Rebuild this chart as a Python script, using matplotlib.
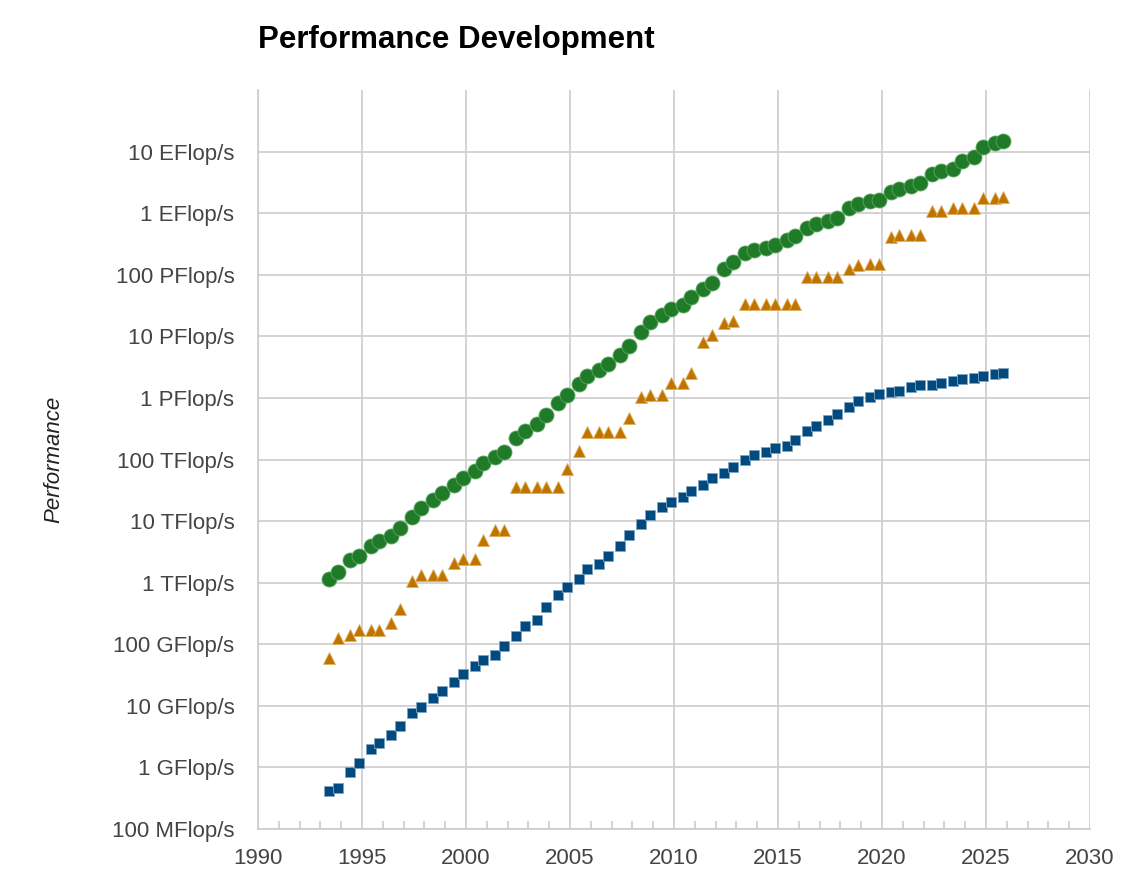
import numpy as np
import matplotlib.pyplot as plt
from matplotlib.ticker import FixedLocator, NullFormatter

# TOP500 lists, June and November, 1993-06 .. 2025-11
years = np.arange(1993, 2026)
dates = np.array([[y + 5 / 12, y + 10 / 12] for y in years]).ravel()

# values in GFlop/s
total = [1128.57, 1493.35, 2317, 2732, 3927, 4784, 5727, 7599, 11737, 16110,
         22215, 28384, 38538, 50969, 64283, 88105, 108581, 134387, 222262, 293354,
         374984, 528377, 813175, 1127440, 1690520, 2300000, 2791000, 3540000,
         4920000, 6970000, 11700000, 16950000, 22600000, 27950000, 32400000,
         43700000, 58900000, 74200000, 123000000, 162000000, 223000000, 250000000,
         274000000, 309000000, 361000000, 420000000, 566700000, 672000000,
         749000000, 845000000, 1220000000, 1414000000, 1559000000, 1650000000,
         2220000000, 2430000000, 2800000000, 3040000000, 4400000000, 4860000000,
         5240000000, 7000000000, 8210000000, 11720000000, 13840000000, 14900000000]

top1 = [59.7, 124, 143.4, 170, 170, 170, 220.4, 368.2, 1068, 1338,
        1338, 1338, 2121, 2379, 2379, 4938, 7226, 7226, 35860, 35860,
        35860, 35860, 35860, 70720, 136800, 280600, 280600, 280600, 280600, 478200,
        1026000, 1105000, 1105000, 1759000, 1759000, 2566000, 8162000, 10510000,
        16320000, 17590000, 33860000, 33860000, 33860000, 33860000, 33860000, 33860000,
        93010000, 93010000, 93010000, 93010000, 122300000, 143500000, 148600000,
        148600000, 415500000, 442000000, 442000000, 442000000, 1102000000,
        1102000000, 1194000000, 1194000000, 1206000000, 1742000000, 1742000000,
        1809000000]

last500 = [0.42, 0.47, 0.84, 1.17, 1.96, 2.50, 3.31, 4.62, 7.67, 9.51,
           13.4, 17.1, 24.7, 33.1, 43.8, 55.1, 67.8, 94.3, 134.3, 195.8,
           245.1, 403.4, 624, 850.6, 1166, 1646, 2026, 2737, 4005, 5929,
           9000, 12640, 17090, 20050, 24670, 31120, 39090, 50940, 60820, 76500,
           96620, 117800, 133700, 153400, 164700, 206300, 286100, 349300, 432200,
           548700, 715600, 874800, 1022000, 1142000, 1228000, 1317000, 1511000,
           1646000, 1650000, 1730000, 1870000, 2020000, 2130000, 2310000,
           2440000, 2550000]

tick_labels = ['100 MFlop/s', '1 GFlop/s', '10 GFlop/s', '100 GFlop/s',
               '1 TFlop/s', '10 TFlop/s', '100 TFlop/s', '1 PFlop/s',
               '10 PFlop/s', '100 PFlop/s', '1 EFlop/s', '10 EFlop/s']

plt.rcParams['font.family'] = ['Liberation Sans', 'DejaVu Sans']

fig = plt.figure(figsize=(11.28, 8.77), dpi=100)
ax = fig.add_axes([258 / 1128, 1 - 829 / 877, 832 / 1128, 739 / 877])

gflop = 1e9
ax.plot(dates, np.array(total) * gflop, 'o', color='#1f7b27', ms=10.8,
        mec='#5fa565', mew=0.6, zorder=3)
ax.plot(dates, np.array(top1) * gflop, '^', color='#c07400', ms=8.5,
        mec='#e0b060', mew=0.6, zorder=3)
ax.plot(dates, np.array(last500) * gflop, 's', color='#004a7f', ms=7.5,
        mec='#7fa4c0', mew=0.6, zorder=3)

ax.set_yscale('log')
ax.set_ylim(1e8, 1e20)
ax.set_xlim(1990, 2030)

ax.yaxis.set_major_locator(FixedLocator([10.0 ** k for k in range(8, 20)]))
ax.yaxis.set_minor_locator(FixedLocator([]))
ax.yaxis.set_minor_formatter(NullFormatter())
ax.set_yticklabels(tick_labels)
ax.set_xticks(range(1990, 2031, 5))
ax.set_xticks(range(1990, 2031), minor=True)

ax.grid(True, which='major', color='#cccccc', lw=1.2)
ax.set_axisbelow(True)
for side in ['top', 'right']:
    ax.spines[side].set_visible(False)
for side in ['left', 'bottom']:
    ax.spines[side].set_color('#cccccc')
    ax.spines[side].set_linewidth(1.2)

ax.tick_params(axis='y', which='both', length=0, pad=17, labelsize=16, labelcolor='#444444')
ax.tick_params(axis='x', which='major', length=0, pad=14, labelsize=16, labelcolor='#444444')
ax.tick_params(axis='x', which='minor', direction='in', length=6, color='#cccccc', width=1.2)

ax.set_ylabel('Performance', fontsize=16, style='italic', color='#222222', labelpad=34)
fig.text(258 / 1128, 1 - 40 / 877, 'Performance Development', fontsize=22.5,
         fontweight='bold', va='center', ha='left')

fig.savefig('out.png', dpi=100)
